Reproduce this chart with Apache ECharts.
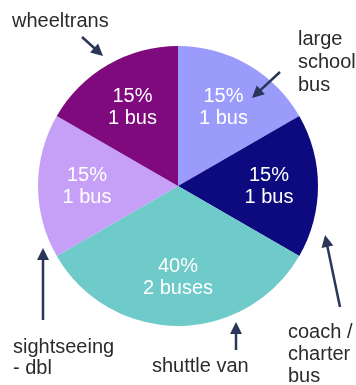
<!DOCTYPE html>
<html>
<head>
<meta charset="utf-8">
<script src="https://cdn.jsdelivr.net/npm/echarts@6/dist/echarts.min.js"></script>
<style>
html,body{margin:0;padding:0;background:#fff;}
#chart{width:356px;height:385px;}
</style>
</head>
<body>
<div id="chart"></div>
<script>
const categories = ['large school bus', 'coach / charter bus', 'shuttle van', 'sightseeing - dbl', 'wheeltrans'];
const buses = [1, 1, 2, 1, 1];
const pctLabels = ['15%', '15%', '40%', '15%', '15%'];
const busLabels = ['1 bus', '1 bus', '2 buses', '1 bus', '1 bus'];
const calloutLabels = ['large\nschool\nbus', 'coach /\ncharter\nbus', 'shuttle van', 'sightseeing\n- dbl', 'wheeltrans'];
const sliceColors = ['#9b9bfb', '#0c0a7e', '#6fcaca', '#c6a0f7', '#7e0a7e'];

const chart = echarts.init(document.getElementById('chart'));
const FONT = 'Liberation Sans, Arial, sans-serif';
const ARROW = '#2a3658';

const pieData = categories.map((c, i) => ({ name: c, value: buses[i], itemStyle: { color: sliceColors[i] } }));
const labelData = categories.map((c, i) => ({ name: c, value: buses[i], pct: pctLabels[i], bus: busLabels[i] }));

// callout text anchors (left, first-line centre) and arrow tail/head points
const callouts = [
  { x: 298, y: 39, lh: 23, tail: [280, 72], head: [252, 98] },
  { x: 288, y: 332, lh: 22, tail: [340, 307], head: [325, 235] },
  { x: 152, y: 366, lh: 22, tail: [236, 350], head: [236, 322] },
  { x: 13, y: 347, lh: 21, tail: [43, 320], head: [43, 248] },
  { x: 12, y: 21, lh: 22, tail: [82, 37], head: [103, 56] }
];

const graphics = [];
callouts.forEach((c, i) => {
  graphics.push({
    type: 'text', silent: true, z: 100,
    style: { text: calloutLabels[i], x: c.x, y: c.y - c.lh / 2, font: '20px ' + FONT, fill: '#2b2b2b', lineHeight: c.lh, verticalAlign: 'top' }
  });
  const dx = c.head[0] - c.tail[0], dy = c.head[1] - c.tail[1];
  const len = Math.sqrt(dx * dx + dy * dy), ux = dx / len, uy = dy / len;
  const hl = 12, hw = 6;
  const bx = c.head[0] - ux * hl, by = c.head[1] - uy * hl;
  graphics.push({
    type: 'line', silent: true, z: 100,
    shape: { x1: c.tail[0], y1: c.tail[1], x2: bx + ux * 2, y2: by + uy * 2 },
    style: { stroke: ARROW, lineWidth: 2.5 }
  });
  graphics.push({
    type: 'polygon', silent: true, z: 100,
    shape: { points: [c.head, [bx - uy * hw, by + ux * hw], [bx + uy * hw, by - ux * hw]] },
    style: { fill: ARROW }
  });
});

chart.setOption({
  animation: false,
  backgroundColor: '#ffffff',
  graphic: { elements: graphics },
  series: [
    {
      type: 'pie', silent: true, z: 1,
      center: [178, 186], radius: 140,
      startAngle: 90, clockwise: true,
      label: { show: false }, labelLine: { show: false },
      itemStyle: { borderWidth: 0 },
      data: pieData
    },
    {
      type: 'pie', silent: true, z: 3,
      center: [178, 186], radius: 176,
      startAngle: 90, clockwise: true,
      itemStyle: { color: 'rgba(0,0,0,0)', borderWidth: 0 },
      emphasis: { disabled: true },
      labelLine: { show: false },
      label: {
        show: true, position: 'inside',
        color: '#ffffff', fontSize: 20, fontFamily: FONT, lineHeight: 22,
        formatter: p => p.data.pct + '\n' + p.data.bus
      },
      data: labelData
    }
  ]
});
</script>
</body>
</html>
